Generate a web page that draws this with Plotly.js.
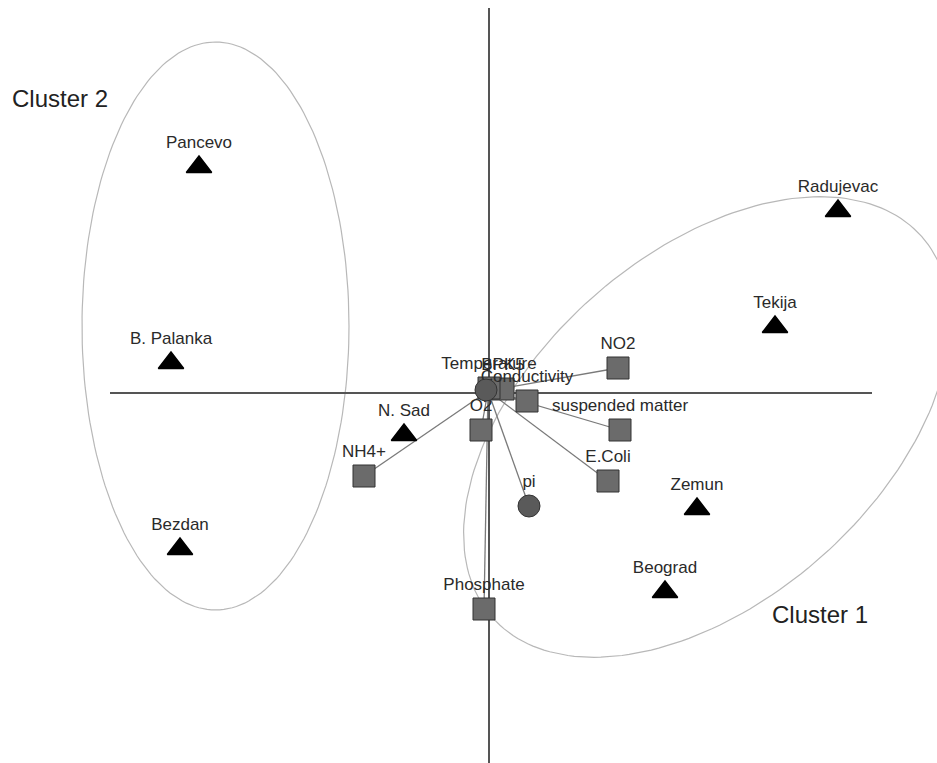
<!DOCTYPE html>
<html>
<head>
<meta charset="utf-8">
<script src="https://cdn.plot.ly/plotly-3.0.1.min.js"></script>
<style>html,body{margin:0;padding:0;background:#fff;}#chart{width:937px;height:763px;}</style>
</head>
<body>
<div id="chart"></div>
<script>
// Sampling sites (triangles)
var siteNames = ["Pancevo", "B. Palanka", "Bezdan", "N. Sad", "Radujevac", "Tekija", "Zemun", "Beograd"];
var siteX = [-2.90, -3.18, -3.09, -0.85, 3.49, 2.86, 2.08, 1.76];
var siteY = [2.26, 0.30, -1.56, -0.42, 1.82, 0.66, -1.16, -1.99];

// Water quality variables (squares)
var varNames = ["NO2", "suspended matter", "Conductivity", "E.Coli", "Phosphate", "NH4+", "O2", "BPK5", "Temperature"];
var varX = [1.29, 1.31, 0.38, 1.19, -0.05, -1.25, -0.08, 0.14, 0.00];
var varY = [0.25, -0.37, -0.08, -0.88, -2.16, -0.83, -0.37, 0.04, 0.05];

// Circle variables
var circNames = ["pi", ""];
var circX = [0.40, -0.03];
var circY = [-1.13, 0.03];

// Cluster ellipses: center x, center y, semi-axis a, semi-axis b, rotation (deg)
var clusterNames = ["Cluster 1", "Cluster 2"];
var ellCX = [2.18, -2.735];
var ellCY = [-0.34, 0.67];
var ellA = [2.87, 1.335];
var ellB = [1.73, 2.84];
var ellRot = [41.6, 0];
var clusterLabelX = [3.31, -4.29];
var clusterLabelY = [-2.21, 2.95];

var traces = [];

// ellipses
for (var k = 0; k < ellCX.length; k++) {
  var ex = [], ey = [];
  var th = ellRot[k] * Math.PI / 180;
  for (var i = 0; i <= 200; i++) {
    var t = 2 * Math.PI * i / 200;
    var ux = ellA[k] * Math.cos(t), uy = ellB[k] * Math.sin(t);
    ex.push(ellCX[k] + ux * Math.cos(th) - uy * Math.sin(th));
    ey.push(ellCY[k] + ux * Math.sin(th) + uy * Math.cos(th));
  }
  traces.push({x: ex, y: ey, mode: "lines", line: {color: "#b8b8b8", width: 1.2}, hoverinfo: "skip", showlegend: false});
}

// axis cross
traces.push({x: [-3.79, 3.83], y: [0, 0], mode: "lines", line: {color: "#555", width: 2}, hoverinfo: "skip", showlegend: false});
traces.push({x: [0, 0], y: [3.85, -3.72], mode: "lines", line: {color: "#555", width: 2}, hoverinfo: "skip", showlegend: false});

// connector lines from origin to variables
var lx = [], ly = [];
var allVX = varX.concat([circX[0]]), allVY = varY.concat([circY[0]]);
for (var j = 0; j < allVX.length; j++) {
  lx.push(-0.01, allVX[j], null);
  ly.push(0.02, allVY[j], null);
}
traces.push({x: lx, y: ly, mode: "lines", line: {color: "#7a7a7a", width: 1.3}, hoverinfo: "skip", showlegend: false});

var labelFont = {family: "Liberation Sans, Arial, sans-serif", size: 17, color: "#2a2a2a"};

// squares
traces.push({
  x: varX, y: varY, text: varNames, mode: "markers+text", textposition: "top center",
  textfont: labelFont,
  marker: {symbol: "square", size: 22, color: "#6b6b6b", line: {color: "#333", width: 1}},
  cliponaxis: false, showlegend: false
});

// circles
traces.push({
  x: circX, y: circY, text: circNames, mode: "markers+text", textposition: "top center",
  textfont: labelFont,
  marker: {symbol: "circle", size: 22, color: "#5a5a5a", line: {color: "#333", width: 1}},
  cliponaxis: false, showlegend: false
});

// triangles
traces.push({
  x: siteX, y: siteY, text: siteNames, mode: "markers+text", textposition: "top center",
  textfont: labelFont,
  marker: {symbol: "triangle-up", size: 22, color: "#000", line: {color: "#000", width: 1.5}},
  cliponaxis: false, showlegend: false
});

var annotations = [];
for (var c = 0; c < clusterNames.length; c++) {
  annotations.push({
    x: clusterLabelX[c], y: clusterLabelY[c], xref: "x", yref: "y", text: clusterNames[c],
    showarrow: false, xanchor: "center", yanchor: "middle",
    font: {family: "Liberation Sans, Arial, sans-serif", size: 24, color: "#222"}
  });
}

var layout = {
  width: 937, height: 763,
  margin: {l: 0, r: 0, t: 0, b: 0},
  paper_bgcolor: "#fff", plot_bgcolor: "#fff",
  xaxis: {range: [-4.89, 4.48], visible: false, fixedrange: true},
  yaxis: {range: [-3.70, 3.93], visible: false, fixedrange: true},
  annotations: annotations,
  showlegend: false
};

Plotly.newPlot("chart", traces, layout, {staticPlot: true});
</script>
</body>
</html>
